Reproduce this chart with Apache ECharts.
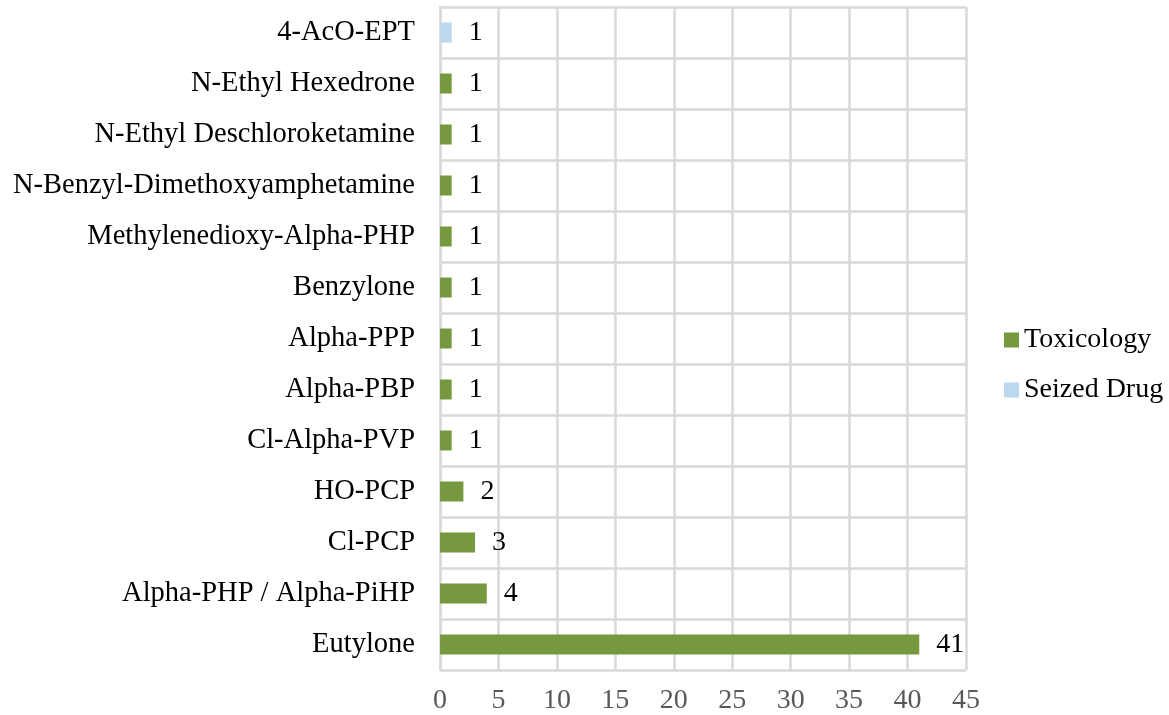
<!DOCTYPE html>
<html>
<head>
<meta charset="utf-8">
<script src="https://cdn.jsdelivr.net/npm/echarts@6/dist/echarts.min.js"></script>
<style>
  html, body { margin: 0; padding: 0; background: #fff; }
  #chart { width: 1169px; height: 715px; }
</style>
</head>
<body>
<div id="chart"></div>
<script>
// bottom to top
const categories = [
    'Eutylone', 'Alpha-PHP / Alpha-PiHP', 'Cl-PCP', 'HO-PCP', 'Cl-Alpha-PVP',
    'Alpha-PBP', 'Alpha-PPP', 'Benzylone', 'Methylenedioxy-Alpha-PHP',
    'N-Benzyl-Dimethoxyamphetamine', 'N-Ethyl Deschloroketamine',
    'N-Ethyl Hexedrone', '4-AcO-EPT'
];
const toxicology = [41, 4, 3, 2, 1, 1, 1, 1, 1, 1, 1, 1, 0];
const seizedDrug = [0, 0, 0, 0, 0, 0, 0, 0, 0, 0, 0, 0, 1];
const seriesNames = ['Toxicology', 'Seized Drug'];

const font = '"Liberation Serif", "Times New Roman", serif';
const gridColor = '#d9d9d9';

const myChart = echarts.init(document.getElementById('chart'));

const label = {
    show: true,
    position: 'right',
    distance: 17,
    color: '#000',
    fontFamily: font,
    fontSize: 28,
    formatter: (p) => p.value === 0 ? '' : p.value
};

const option = {
    animation: false,
    textStyle: { fontFamily: font },
    legend: {
        data: seriesNames,
        orient: 'vertical',
        left: 999,
        top: 321,
        itemGap: 22,
        itemWidth: 15,
        itemHeight: 15,
        icon: 'rect',
        textStyle: { fontFamily: font, fontSize: 28, color: '#000' }
    },
    grid: {
        left: 440,
        right: 203,
        top: 7,
        bottom: 45,
        outerBoundsMode: 'none'
    },
    xAxis: {
        type: 'value',
        min: 0,
        max: 45,
        interval: 5,
        axisLine: { show: false },
        axisTick: { show: false },
        axisLabel: { color: '#595959', fontFamily: font, fontSize: 28, margin: 17 },
        splitLine: { show: true, lineStyle: { color: gridColor, width: 2.5 } }
    },
    yAxis: {
        type: 'category',
        data: categories,
        axisLine: { show: true, lineStyle: { color: gridColor, width: 2.5 } },
        axisTick: { show: false },
        axisLabel: { color: '#000', fontFamily: font, fontSize: 28.5, margin: 25 },
        splitLine: { show: true, lineStyle: { color: gridColor, width: 2.5 } }
    },
    series: [
        {
            name: seriesNames[0],
            type: 'bar',
            stack: 'total',
            barWidth: 20,
            data: toxicology,
            itemStyle: { color: '#76993f' },
            label: label
        },
        {
            name: seriesNames[1],
            type: 'bar',
            stack: 'total',
            barWidth: 20,
            data: seizedDrug,
            itemStyle: { color: '#bdd7ee' },
            label: label
        }
    ]
};

myChart.setOption(option);
window.addEventListener('resize', () => myChart.resize());
</script>
</body>
</html>
